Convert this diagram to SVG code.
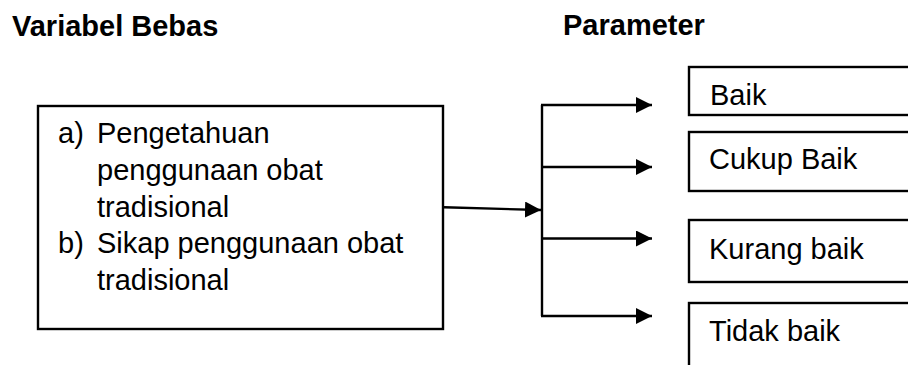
<svg xmlns="http://www.w3.org/2000/svg" width="908" height="365" viewBox="0 0 908 365">
<defs>
<marker id="ah" markerUnits="userSpaceOnUse" markerWidth="16" markerHeight="16" refX="16" refY="8" orient="auto" viewBox="0 0 16 16">
<path d="M0,0 L16,8 L0,16 Z" fill="#000"/>
</marker>
</defs>
<style>
text{font-family:"Liberation Sans",Arial,sans-serif;font-size:29px;fill:#000}
.h{font-weight:bold}
.box{fill:#fff;stroke:#000;stroke-width:2.4}
.ln{fill:none;stroke:#000;stroke-width:2.4}
</style>
<rect width="908" height="365" fill="#fff"/>
<text class="h" x="12" y="36">Variabel Bebas</text>
<text class="h" x="563" y="35">Parameter</text>
<g id="var">
<rect class="box" x="38" y="106" width="405" height="223"/>
<text><tspan x="58" y="143">a)</tspan><tspan x="97" y="143">Pengetahuan</tspan><tspan x="97" y="180">penggunaan obat</tspan><tspan x="97" y="217">tradisional</tspan><tspan x="58" y="253">b)</tspan><tspan x="97" y="253">Sikap penggunaan obat</tspan><tspan x="97" y="290">tradisional</tspan></text>
</g>
<g id="baik">
<rect class="box" x="689" y="67" width="240" height="48"/>
<text x="710" y="105">Baik</text>
</g>
<g id="cukup">
<rect class="box" x="689" y="132" width="240" height="59"/>
<text x="709" y="169">Cukup Baik</text>
</g>
<g id="kurang">
<rect class="box" x="689" y="220" width="240" height="62"/>
<text x="709" y="259">Kurang baik</text>
</g>
<g id="tidak">
<rect class="box" x="689" y="303" width="240" height="80"/>
<text x="709" y="341">Tidak baik</text>
</g>
<g id="connectors">
<path class="ln" d="M444,207.3 L541,210" marker-end="url(#ah)"/>
<path class="ln" d="M542,105 L542,316"/>
<path class="ln" d="M541,105 L652,105" marker-end="url(#ah)"/>
<path class="ln" d="M541,167 L652,167" marker-end="url(#ah)"/>
<path class="ln" d="M541,238.5 L652,238.5" marker-end="url(#ah)"/>
<path class="ln" d="M541,316 L652,316" marker-end="url(#ah)"/>
</g>
</svg>
